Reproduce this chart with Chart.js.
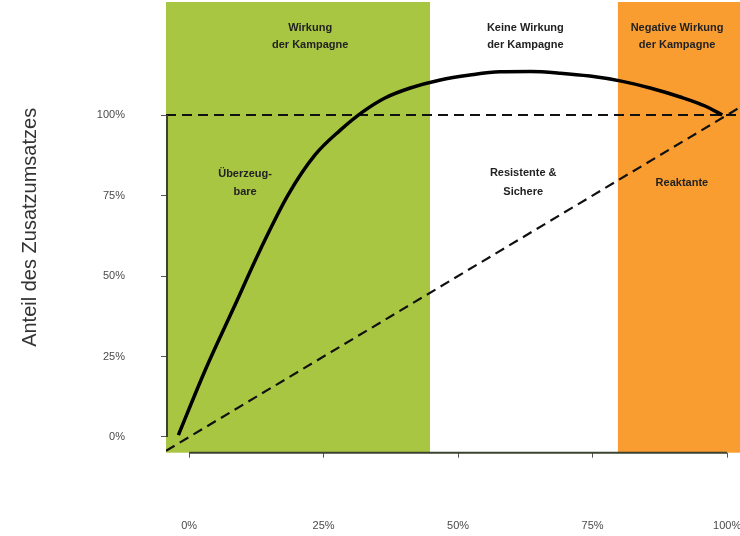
<!DOCTYPE html>
<html>
<head>
<meta charset="utf-8">
<script src="https://cdn.jsdelivr.net/npm/chart.js@4.4.0/dist/chart.umd.min.js"></script>
<style>
  html, body { margin: 0; padding: 0; background: #fff; }
  #wrap { width: 740px; height: 536px; }
</style>
</head>
<body>
<div id="wrap"><canvas id="myChart" width="740" height="536"></canvas></div>
<script>
// tick values (percent)
const xTicks = [0, 25, 50, 75, 100];
const yTicks = [0, 25, 50, 75, 100];

// solid curve: share of additional revenue
const curveX = [-2.0, 3.0, 8.2, 13.2, 18.4, 23.4, 28.1, 32.2, 36.4, 41.1, 46.7, 52.2, 57.8, 63.4, 69.0, 74.5, 80.1, 85.7, 91.3, 95.9, 99.1];
const curveY = [0.6, 20.8, 39.8, 58.1, 75.2, 87.6, 95.3, 100.9, 105.3, 108.4, 110.9, 112.4, 113.4, 113.5, 113.0, 112.1, 110.6, 108.4, 105.6, 102.8, 100.0];

// dashed reference lines
const diagX = [-4.3, 102.4];
const diagY = [-4.3, 102.4];
const flatX = [-4.3, 102.4];
const flatY = [100, 100];

// background bands
const bandFrom = [-4.3, 44.8, 79.7];
const bandTo = [44.8, 79.7, 102.4];
const bandColors = ['#a9c643', '#ffffff', '#f99d31'];

// region captions
const captionText = ['Wirkung', 'der Kampagne', 'Keine Wirkung', 'der Kampagne', 'Negative Wirkung', 'der Kampagne',
                     'Überzeug-', 'bare', 'Resistente &', 'Sichere', 'Reaktante'];
const captionX = [22.5, 22.5, 62.5, 62.5, 90.7, 90.7, 10.4, 10.4, 62.1, 62.1, 91.6];
const captionY = [127, 121.7, 127, 121.7, 127, 121.7, 81.7, 76.1, 82, 76.1, 78.9];

const toPts = (xs, ys) => xs.map((x, i) => ({x: x, y: ys[i]}));

function noPad(s) {
    s.paddingTop = 0;
    s.paddingBottom = 0;
    s.paddingLeft = 0;
    s.paddingRight = 0;
}

const bgPlugin = {
    id: 'bands',
    beforeDraw(chart) {
        const {ctx, chartArea, scales} = chart;
        ctx.save();
        bandFrom.forEach((f, i) => {
            const x1 = scales.x.getPixelForValue(f);
            const x2 = scales.x.getPixelForValue(bandTo[i]);
            ctx.fillStyle = bandColors[i];
            ctx.fillRect(x1, chartArea.top, x2 - x1, chartArea.bottom - chartArea.top);
        });
        ctx.restore();
    },
    afterDatasetsDraw(chart) {
        const {ctx, chartArea, scales} = chart;
        ctx.save();
        // axis lines only over the 0..100 range
        ctx.strokeStyle = '#3b4230';
        ctx.lineWidth = 2;
        ctx.beginPath();
        ctx.moveTo(scales.x.getPixelForValue(0), chartArea.bottom);
        ctx.lineTo(scales.x.getPixelForValue(100), chartArea.bottom);
        ctx.stroke();
        ctx.beginPath();
        ctx.moveTo(chartArea.left + 1, scales.y.getPixelForValue(0));
        ctx.lineTo(chartArea.left + 1, scales.y.getPixelForValue(100));
        ctx.stroke();

        ctx.fillStyle = '#222';
        ctx.font = 'bold 11px "Liberation Sans", Arial, sans-serif';
        ctx.textAlign = 'center';
        ctx.textBaseline = 'middle';
        captionText.forEach((t, i) => {
            ctx.fillText(t, scales.x.getPixelForValue(captionX[i]), scales.y.getPixelForValue(captionY[i]));
        });
        ctx.restore();
    }
};

const ctx = document.getElementById('myChart').getContext('2d');
const chart = new Chart(ctx, {
    type: 'scatter',
    data: {
        datasets: [{
            label: 'Zusatzumsatz',
            data: toPts(curveX, curveY),
            showLine: true,
            borderColor: '#000',
            borderWidth: 3.5,
            pointRadius: 0,
            cubicInterpolationMode: 'monotone'
        }, {
            label: '100%',
            data: toPts(flatX, flatY),
            showLine: true,
            borderColor: '#111',
            borderWidth: 2.2,
            borderDash: [10, 6],
            pointRadius: 0
        }, {
            label: 'Diagonale',
            data: toPts(diagX, diagY),
            showLine: true,
            borderColor: '#111',
            borderWidth: 2.2,
            borderDash: [10, 6],
            pointRadius: 0
        }]
    },
    options: {
        responsive: false,
        animation: false,
        layout: { padding: { top: 2, left: 0, right: 0, bottom: 0 } },
        plugins: { legend: { display: false }, tooltip: { enabled: false } },
        scales: {
            x: {
                type: 'linear',
                min: -4.3,
                max: 102.4,
                afterBuildTicks: s => { s.ticks = xTicks.map(v => ({value: v})); },
                afterFit: s => { s.height = 83.3; noPad(s); },
                border: { display: false },
                grid: { drawOnChartArea: false, drawTicks: true, tickLength: 5, color: '#555' },
                ticks: {
                    padding: 62,
                    color: '#4a4a4a',
                    maxRotation: 0,
                    font: { family: '"Liberation Sans", Arial, sans-serif', size: 11 },
                    callback: v => v + '%'
                }
            },
            y: {
                type: 'linear',
                min: -4.88,
                max: 135.1,
                afterBuildTicks: s => { s.ticks = yTicks.map(v => ({value: v})); },
                afterFit: s => { s.width = 166; noPad(s); },
                border: { display: false },
                grid: { drawOnChartArea: false, drawTicks: true, tickLength: 5, color: '#555' },
                title: {
                    display: true,
                    text: 'Anteil des Zusatzumsatzes',
                    color: '#333',
                    padding: { top: 18, bottom: 0 },
                    font: { family: '"Liberation Sans", Arial, sans-serif', size: 20 }
                },
                ticks: {
                    padding: 36,
                    color: '#4a4a4a',
                    font: { family: '"Liberation Sans", Arial, sans-serif', size: 11 },
                    callback: v => v + '%'
                }
            }
        }
    },
    plugins: [bgPlugin]
});
</script>
</body>
</html>
